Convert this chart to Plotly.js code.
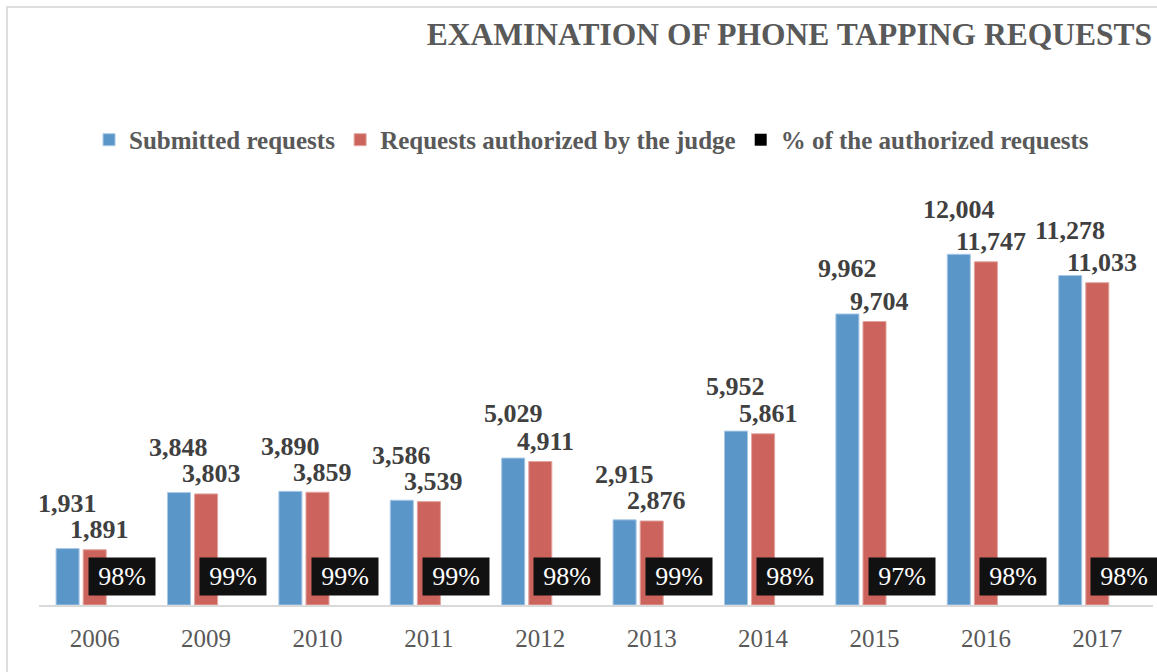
<!DOCTYPE html>
<html>
<head>
<meta charset="utf-8">
<script src="https://cdn.plot.ly/plotly-3.0.1.min.js"></script>
<style>
  html, body { margin: 0; padding: 0; background: #fff; }
  #wrap { position: relative; width: 1157px; height: 672px; overflow: hidden; }
  #frame { position: absolute; left: 6px; top: 6px; width: 1200px; height: 700px;
           border-left: 2px solid #dedede; border-top: 2px solid #dedede; pointer-events: none; z-index: 5; }
  #chart { position: absolute; left: 0; top: 0; width: 1157px; height: 672px; }
</style>
</head>
<body>
<div id="wrap">
  <div id="chart"></div>
  <div id="frame"></div>
</div>
<script>
// ---- data ----
const years = ['2006', '2009', '2010', '2011', '2012', '2013', '2014', '2015', '2016', '2017'];
const submitted = [1931, 3848, 3890, 3586, 5029, 2915, 5952, 9962, 12004, 11278];
const authorized = [1891, 3803, 3859, 3539, 4911, 2876, 5861, 9704, 11747, 11033];
const pctAuthorized = [98, 99, 99, 99, 98, 99, 98, 97, 98, 98];

const seriesNames = ['Submitted requests', 'Requests authorized by the judge', '% of the authorized requests'];
const titleText = 'EXAMINATION OF PHONE TAPPING REQUESTS';

// ---- styling ----
const W = 1157, H = 672;
const margin = { l: 39, r: 4, t: 196, b: 67 };
const bargap = 0.27, bargroupgap = 0.15;
const plotW = W - margin.l - margin.r;
const slotPx = plotW / years.length * (1 - bargap) / 3;

const serif = '"Liberation Serif", "Times New Roman", serif';
const blue = '#5B96C9', red = '#CC645D', black = '#000000';

const fmt = v => v.toLocaleString('en-US');

const traces = [
  { type: 'bar', name: seriesNames[0], x: years, y: submitted, offsetgroup: '1',
    marker: { color: blue, line: { color: '#a9c8e6', width: 1 } }, hoverinfo: 'x+y' },
  { type: 'bar', name: seriesNames[1], x: years, y: authorized, offsetgroup: '2',
    marker: { color: red, line: { color: '#e2a6a1', width: 1 } }, hoverinfo: 'x+y' },
  // percentage series: plotted on a hidden secondary axis (its bars stay out of view, as in the reference)
  { type: 'bar', name: seriesNames[2], x: years, y: pctAuthorized, yaxis: 'y2', offsetgroup: '3',
    marker: { color: black }, hoverinfo: 'skip' }
];

const annotations = [];
const valFont = { family: serif, size: 26, color: '#404040', weight: 'bold' };
submitted.forEach((v, i) => annotations.push({
  x: i, y: v, xref: 'x', yref: 'y', text: '<b>' + fmt(v) + '</b>', showarrow: false,
  xshift: -slotPx, yshift: 45, yanchor: 'middle', xanchor: 'center', font: valFont
}));
authorized.forEach((v, i) => annotations.push({
  x: i, y: v, xref: 'x', yref: 'y', text: '<b>' + fmt(v) + '</b>', showarrow: false,
  xshift: 5, yshift: 20, yanchor: 'middle', xanchor: 'center', font: valFont
}));
pctAuthorized.forEach((p, i) => annotations.push({
  x: i, y: 0, xref: 'x', yref: 'y', text: p + '%', showarrow: false,
  xshift: slotPx, yshift: 28.5, yanchor: 'middle', xanchor: 'center',
  width: 64, height: 35, borderpad: 1, bgcolor: '#111111',
  font: { family: serif, size: 26, color: '#ffffff' }
}));

const layout = {
  width: W, height: H, autosize: false,
  margin: margin,
  paper_bgcolor: '#ffffff', plot_bgcolor: '#ffffff',
  barmode: 'group', bargap: bargap, bargroupgap: bargroupgap,
  title: {
    text: '<b>' + titleText + '</b>',
    xref: 'container', yref: 'container', x: 1152 / W, xanchor: 'right',
    y: 1 - 34 / H, yanchor: 'middle',
    font: { family: serif, size: 31.5, color: '#595959' }
  },
  showlegend: true,
  legend: {
    orientation: 'h', x: 0.496, xanchor: 'center', y: 1.137, yanchor: 'middle',
    font: { family: serif, size: 25, color: '#595959', weight: 'bold' },
    traceorder: 'normal', itemclick: false, itemdoubleclick: false
  },
  xaxis: {
    type: 'category', categoryorder: 'array', categoryarray: years,
    range: [-0.5, years.length - 0.5], autorange: false,
    showline: true, linecolor: '#d9d9d9', linewidth: 2,
    ticks: '', showgrid: false, zeroline: false, ticklabelstandoff: 10,
    tickfont: { family: serif, size: 25, color: '#595959' }
  },
  yaxis: {
    range: [0, 14000], autorange: false, showticklabels: false, showgrid: false, zeroline: false,
    showline: false, ticks: ''
  },
  yaxis2: {
    overlaying: 'y', side: 'right', range: [100, 200], autorange: false,
    showticklabels: false, showgrid: false, zeroline: false, showline: false, ticks: ''
  },
  annotations: annotations
};

Plotly.newPlot('chart', traces, layout, { displayModeBar: false });
</script>
</body>
</html>
